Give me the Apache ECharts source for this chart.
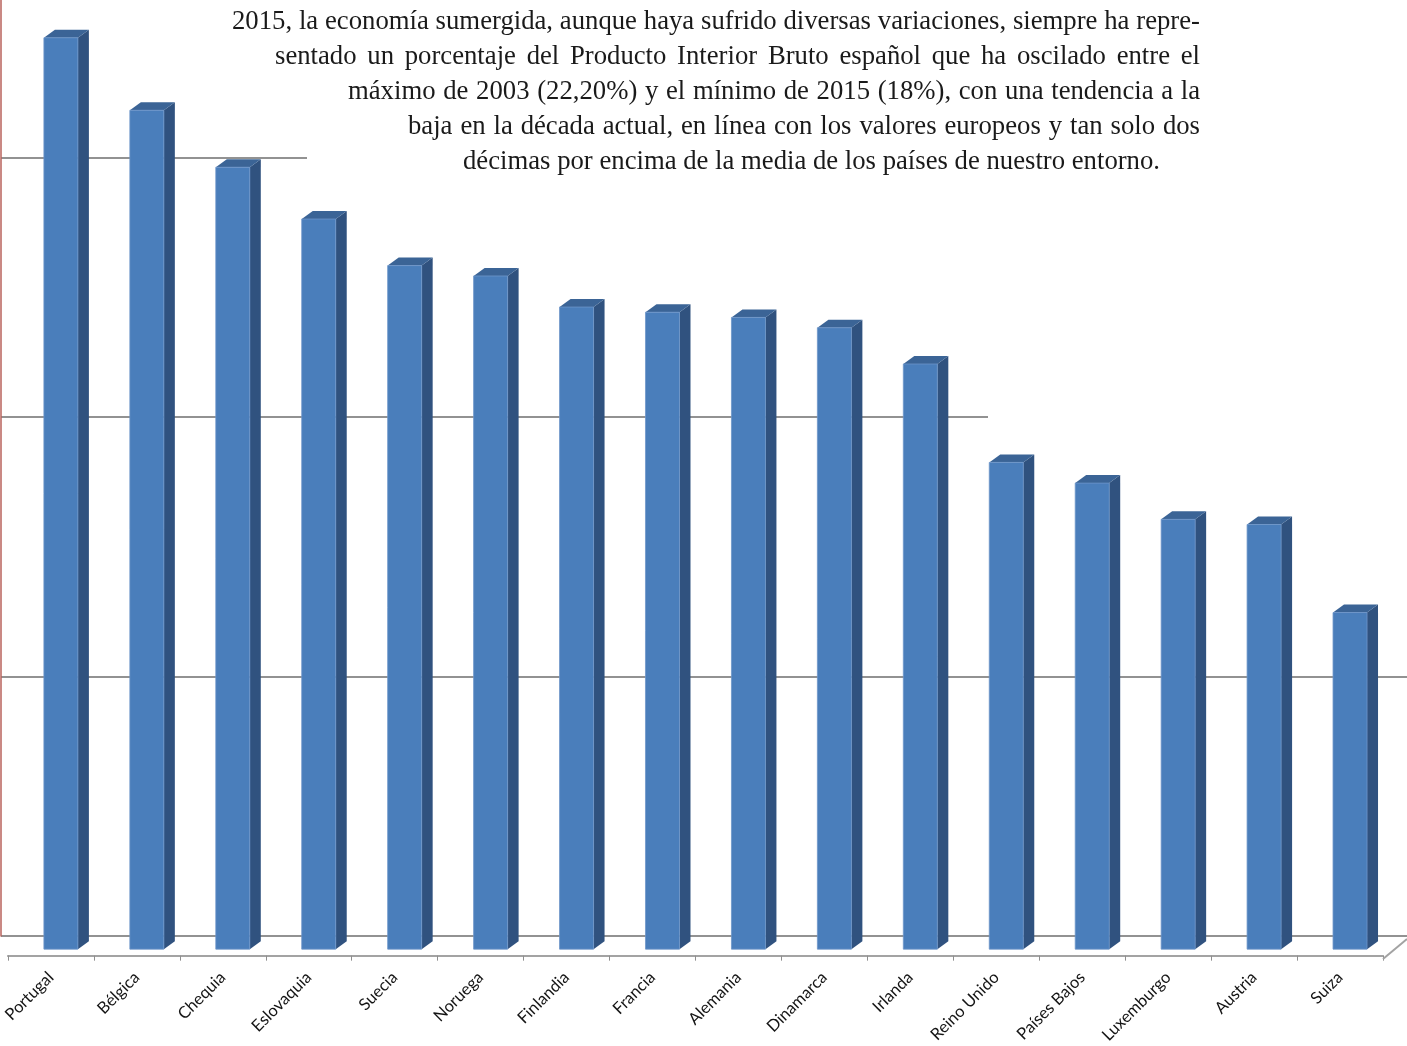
<!DOCTYPE html>
<html>
<head>
<meta charset="utf-8">
<script src="https://cdn.jsdelivr.net/npm/echarts/dist/echarts.min.js"></script>
<style>
html,body{margin:0;padding:0;background:#ffffff;overflow:hidden;width:1407px;height:1046px;position:relative;}
#chart{position:absolute;left:0;top:-102px;width:1407px;height:1148px;}
</style>
</head>
<body>
<div id="chart"></div>
<script>
// ---- data ----
const categories = ['Portugal','Bélgica','Chequia','Eslovaquia','Suecia','Noruega','Finlandia','Francia','Alemania','Dinamarca','Irlanda','Reino Unido','Países Bajos','Luxemburgo','Austria','Suiza'];
const values = [17.6, 16.2, 15.1, 14.1, 13.2, 13.0, 12.4, 12.3, 12.2, 12.0, 11.3, 9.4, 9.0, 8.3, 8.2, 6.5];
const yTicks = [0, 5, 10, 15, 20];
const textLines = [
  '2015, la economía sumergida, aunque haya sufrido diversas variaciones, siempre ha repre-',
  'sentado un porcentaje del Producto Interior Bruto español que ha oscilado entre el',
  'máximo de 2003 (22,20%) y el mínimo de 2015 (18%), con una tendencia a la',
  'baja en la década actual, en línea con los valores europeos y tan solo dos',
  'décimas por encima de la media de los países de nuestro entorno.'
];

// ---- layout / style ----
const OFF = 102; // chart canvas starts 102px above the page top
const textLayout = [
  {left: 232, right: 1200, y: 22, justify: true},
  {left: 275, right: 1200, y: 57, justify: true},
  {left: 348, right: 1200, y: 92, justify: true},
  {left: 408, right: 1200, y: 127, justify: true},
  {left: 463, right: 1160, y: 162, justify: false}
];
const FRONT = '#4a7ebb', SIDE = '#30527f', TOP = '#3b6496';
const DX = 11, DY = 8, FRONT_W = 34, SHIFT = 10, FRONT_DROP = 15.5;

const FS = 27;
const FONT = FS + 'px "Liberation Serif", serif';
const ctx = document.createElement('canvas').getContext('2d');
ctx.font = FONT;
const lastLayout = textLayout[textLayout.length - 1];
const SX = (lastLayout.right - lastLayout.left) / ctx.measureText(textLines[textLines.length - 1]).width;
const textEls = [];
textLayout.forEach((L, k) => {
  const words = textLines[k].split(' ');
  const ws = words.map(w => ctx.measureText(w).width * SX);
  const total = ws.reduce((a, b) => a + b, 0);
  const gap = L.justify ? (L.right - L.left - total) / (words.length - 1) : ctx.measureText(' ').width * SX;
  let x = L.left;
  words.forEach((w, i) => {
    textEls.push({
      type: 'text', x: x, y: L.y + OFF, scaleX: SX, z: 10,
      style: {text: w, font: FONT, fill: '#1a1a1a', verticalAlign: 'middle', textVerticalAlign: 'middle'}
    });
    x += ws[i] + gap;
  });
});

const chart = echarts.init(document.getElementById('chart'), null, {renderer: 'canvas'});

function renderBar(params, api) {
  const i = api.value(0);
  const top = api.coord([i, api.value(1)]);
  const base = api.coord([i, 0]);
  const cx = top[0] + SHIFT;
  const xl = cx - FRONT_W / 2, xr = cx + FRONT_W / 2;
  const ft = top[1] + FRONT_DROP, fb = base[1] + FRONT_DROP;
  return {
    type: 'group',
    children: [
      {type: 'polygon', shape: {points: [[xr, ft], [xr + DX, ft - DY], [xr + DX, fb - DY], [xr, fb]]}, style: {fill: SIDE}},
      {type: 'polygon', shape: {points: [[xl, ft], [xl + DX, ft - DY], [xr + DX, ft - DY], [xr, ft]]}, style: {fill: TOP}},
      {type: 'rect', shape: {x: xl, y: ft, width: FRONT_W, height: fb - ft}, style: {fill: FRONT, stroke: '#6d95c9', lineWidth: 0.8}}
    ]
  };
}

chart.setOption({
  animation: false,
  backgroundColor: '#ffffff',
  grid: [
    {left: 1, right: 0, top: 0, bottom: 110},
    {left: 5, right: 24, top: 0, bottom: 110}
  ],
  xAxis: [
    {gridIndex: 0, type: 'value', min: 0, max: 1, show: false},
    {gridIndex: 1, type: 'category', data: categories, offset: 22, position: 'bottom',
      axisLine: {show: true, onZero: false, lineStyle: {color: '#a3a3a3', width: 2}},
      axisTick: {show: true, alignWithLabel: false, length: 5, lineStyle: {color: '#8f8f8f', width: 1}},
      axisLabel: {rotate: 45, margin: 19, interval: 0, color: '#141414', fontFamily: 'Lato', fontSize: 16.5}
    }
  ],
  yAxis: [
    {gridIndex: 0, type: 'value', min: yTicks[0], max: yTicks[yTicks.length - 1], interval: yTicks[1] - yTicks[0],
      axisLine: {show: true, lineStyle: {color: '#b8625b', width: 1.5}},
      axisTick: {show: false}, axisLabel: {show: false},
      splitLine: {show: true, lineStyle: {color: '#929292', width: 2}}
    },
    {gridIndex: 1, type: 'value', min: yTicks[0], max: yTicks[yTicks.length - 1], show: false, splitLine: {show: false}}
  ],
  graphic: [
    {type: 'polygon', z: 1, shape: {points: [[307, -10 + OFF], [1407, -10 + OFF], [1407, 432 + OFF], [988, 432 + OFF], [988, 400 + OFF], [307, 168 + OFF]]}, style: {fill: '#ffffff'}},
    {type: 'line', z: 1, shape: {x1: 1383, y1: 959 + OFF, x2: 1407, y2: 939 + OFF}, style: {stroke: '#a3a3a3', lineWidth: 2}}
  ].concat(textEls),
  series: [{
    type: 'custom', xAxisIndex: 1, yAxisIndex: 1, z: 3,
    renderItem: renderBar,
    data: values.map((v, i) => [i, v])
  }]
});
</script>
</body>
</html>
